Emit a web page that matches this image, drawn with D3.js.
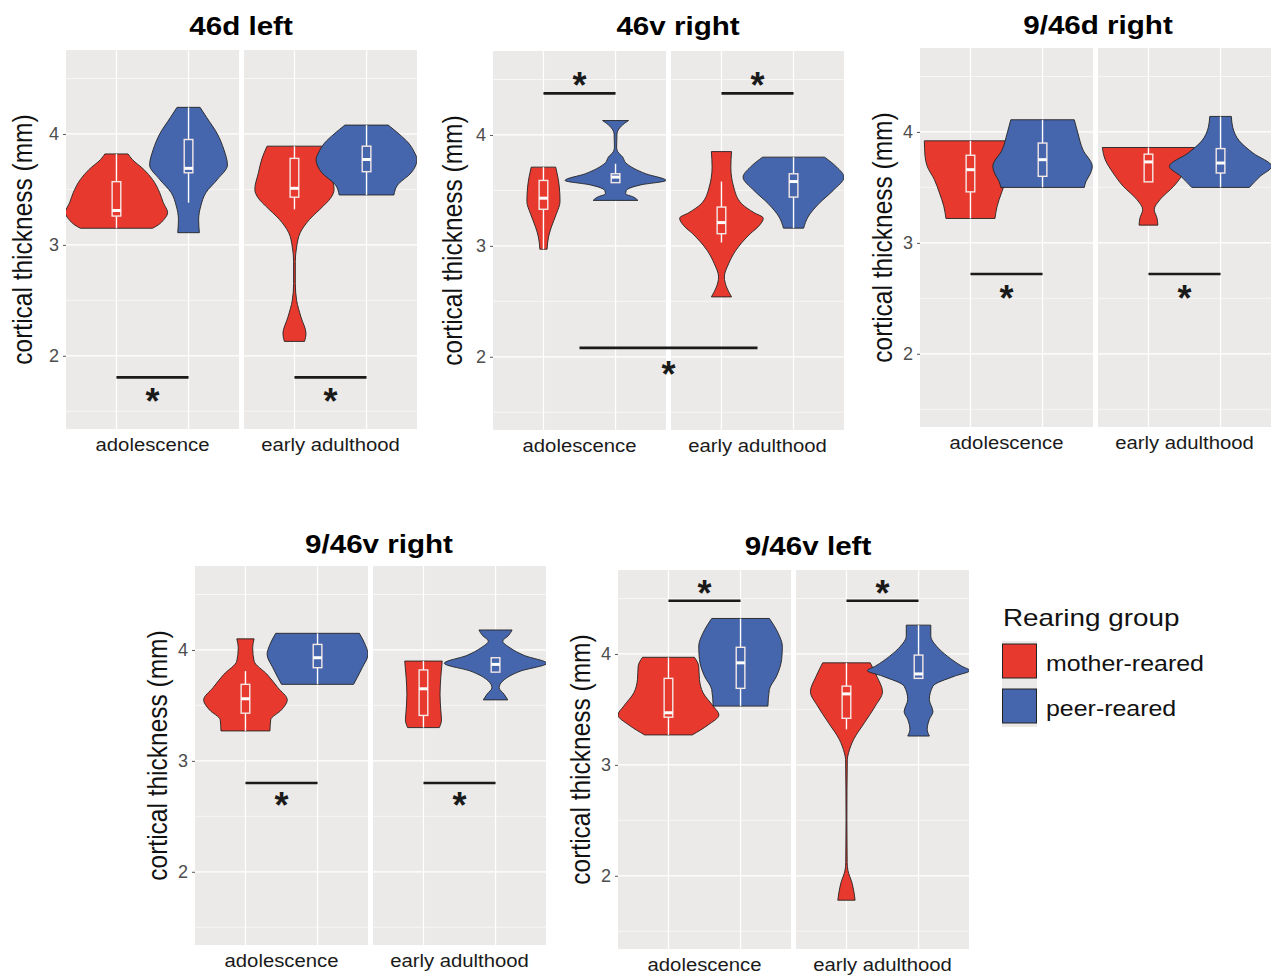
<!DOCTYPE html>
<html><head><meta charset="utf-8">
<script src="https://cdn.jsdelivr.net/npm/d3@7"></script>
<style>body{margin:0;background:#fff} svg{display:block}</style>
</head><body>
<script>
// ---------------- DATA ----------------
const panelTitles = ["46d left", "46v right", "9/46d right", "9/46v right", "9/46v left"];
const ages = ["adolescence", "early adulthood"];
const groups = ["mother-reared", "peer-reared"];
const yTicks = [2, 3, 4];
const yMinorTicks = [1.5, 2.5, 3.5, 4.5];
const yLabel = "cortical thickness (mm)";
const legendTitle = "Rearing group";

// violin outlines: [thickness (mm), half-width (x units)]
// order: adolescence/mother, adolescence/peer, early adulthood/mother, early adulthood/peer
const violins46dLeft = [
  [[3.82,0.16],[3.77,0.22],[3.68,0.38],[3.59,0.50],[3.47,0.60],[3.38,0.65],[3.29,0.71],[3.23,0.66],[3.18,0.58],[3.15,0.50]],
  [[4.24,0.16],[4.15,0.25],[4.00,0.40],[3.86,0.49],[3.72,0.54],[3.59,0.40],[3.47,0.24],[3.35,0.17],[3.23,0.14],[3.11,0.15]],
  [[3.89,0.38],[3.78,0.45],[3.65,0.50],[3.50,0.55],[3.42,0.50],[3.35,0.40],[3.23,0.21],[3.11,0.08],[2.98,0.03],[2.85,0.012],[2.65,0.012],[2.50,0.03],[2.35,0.09],[2.20,0.16],[2.13,0.14]],
  [[4.08,0.30],[4.00,0.45],[3.92,0.58],[3.84,0.66],[3.77,0.70],[3.65,0.62],[3.54,0.43],[3.45,0.38]]
];
const violins46vRight = [
  [[3.71,0.17],[3.62,0.20],[3.53,0.22],[3.40,0.23],[3.29,0.18],[3.17,0.11],[3.08,0.07],[2.97,0.05]],
  [[4.13,0.18],[4.08,0.08],[4.01,0.02],[3.89,0.015],[3.85,0.03],[3.80,0.10],[3.75,0.14],[3.70,0.25],[3.65,0.42],[3.59,0.70],[3.55,0.35],[3.50,0.15],[3.47,0.14],[3.44,0.25],[3.41,0.31]],
  [[3.85,0.14],[3.71,0.13],[3.53,0.17],[3.38,0.28],[3.30,0.45],[3.25,0.58],[3.18,0.52],[3.11,0.40],[2.96,0.20],[2.84,0.10],[2.72,0.04],[2.63,0.07],[2.54,0.14]],
  [[3.80,0.43],[3.71,0.60],[3.62,0.70],[3.50,0.55],[3.38,0.35],[3.26,0.20],[3.16,0.14]]
];
const violins946dRight = [
  [[3.92,0.64],[3.78,0.63],[3.69,0.60],[3.57,0.50],[3.45,0.43],[3.33,0.37],[3.22,0.34]],
  [[4.11,0.44],[3.99,0.49],[3.84,0.56],[3.69,0.69],[3.62,0.66],[3.55,0.60],[3.50,0.58]],
  [[3.86,0.64],[3.75,0.60],[3.63,0.49],[3.51,0.35],[3.39,0.16],[3.30,0.08],[3.22,0.12],[3.16,0.13]],
  [[4.14,0.15],[4.04,0.17],[3.92,0.26],[3.81,0.45],[3.69,0.71],[3.60,0.55],[3.50,0.40]]
];
const violins946vRight = [
  [[4.10,0.12],[4.02,0.10],[3.90,0.12],[3.78,0.30],[3.66,0.45],[3.55,0.58],[3.46,0.50],[3.37,0.35],[3.27,0.34]],
  [[4.15,0.58],[4.05,0.66],[3.96,0.70],[3.84,0.62],[3.75,0.55],[3.69,0.50]],
  [[3.90,0.26],[3.75,0.24],[3.60,0.23],[3.46,0.24],[3.37,0.25],[3.30,0.22]],
  [[4.18,0.23],[4.13,0.18],[4.08,0.10],[4.02,0.20],[3.95,0.40],[3.88,0.71],[3.81,0.35],[3.72,0.10],[3.66,0.05],[3.60,0.12],[3.55,0.17]]
];
const violins946vLeft = [
  [[3.97,0.36],[3.89,0.42],[3.77,0.43],[3.65,0.48],[3.53,0.62],[3.45,0.70],[3.36,0.55],[3.27,0.33]],
  [[4.32,0.40],[4.19,0.52],[4.07,0.58],[3.95,0.57],[3.80,0.50],[3.68,0.40],[3.53,0.38]],
  [[3.92,0.33],[3.80,0.42],[3.66,0.50],[3.53,0.40],[3.38,0.25],[3.23,0.10],[3.11,0.03],[3.05,0.012],[2.50,0.006],[2.12,0.01],[2.05,0.02],[1.93,0.08],[1.78,0.12]],
  [[4.26,0.17],[4.16,0.17],[4.07,0.25],[3.98,0.40],[3.89,0.60],[3.85,0.71],[3.80,0.50],[3.71,0.20],[3.59,0.15],[3.48,0.20],[3.41,0.15],[3.32,0.12],[3.26,0.15]]
];

// boxplots: [lower whisker, q1, median, q3, upper whisker]
const boxes46dLeft   = [[3.15,3.26,3.31,3.57,3.82],[3.38,3.65,3.69,3.95,4.24],[3.32,3.43,3.51,3.78,3.89],[3.45,3.66,3.77,3.89,4.08]];
const boxes46vRight  = [[2.97,3.33,3.43,3.59,3.71],[3.57,3.57,3.62,3.65,3.74],[3.03,3.11,3.21,3.35,3.58],[3.16,3.44,3.58,3.65,3.80]];
const boxes946dRight = [[3.22,3.46,3.66,3.79,3.92],[3.50,3.60,3.75,3.90,4.11],[3.55,3.55,3.73,3.80,3.86],[3.50,3.63,3.72,3.85,4.14]];
const boxes946vRight = [[3.27,3.43,3.56,3.69,3.81],[3.69,3.84,3.93,4.05,4.15],[3.30,3.41,3.65,3.82,3.90],[3.80,3.80,3.87,3.93,3.93]];
const boxes946vLeft  = [[3.27,3.43,3.47,3.78,3.97],[3.53,3.69,3.92,4.06,4.32],[3.32,3.42,3.64,3.71,3.92],[3.78,3.78,3.82,3.99,4.26]];

// significance markers: [age from, position from, age to, position to, bar value, star value]
const sig46dLeft   = [[0,1,0,2,1.805,1.65],[1,1,1,2,1.805,1.65]];
const sig46vRight  = [[0,1,0,2,4.375,4.51],[1,1,1,2,4.375,4.51],[0,1.5,1,1.5,2.08,1.91]];
const sig946dRight = [[0,1,0,2,2.72,2.56],[1,1,1,2,2.72,2.56]];
const sig946vRight = [[0,1,0,2,2.80,2.66],[1,1,1,2,2.80,2.66]];
const sig946vLeft  = [[0,1,0,2,4.48,4.61],[1,1,1,2,4.48,4.61]];

const panelViolins = [violins46dLeft, violins46vRight, violins946dRight, violins946vRight, violins946vLeft];
const panelBoxes = [boxes46dLeft, boxes46vRight, boxes946dRight, boxes946vRight, boxes946vLeft];
const panelSigs = [sig46dLeft, sig46vRight, sig946dRight, sig946vRight, sig946vLeft];

// ---------------- LAYOUT / STYLE ----------------
const colors = ["#E8392E", "#4566AC"];
const panelBg = "#ECEAE8";
const layout = [
  {left: 66,  top: 50,  titleX: 241,  titleY: 35,  axisX: 22},
  {left: 493, top: 51,  titleX: 678,  titleY: 35,  axisX: 452},
  {left: 920, top: 48,  titleX: 1098, titleY: 34,  axisX: 882},
  {left: 195, top: 566, titleX: 379,  titleY: 553, axisX: 157},
  {left: 618, top: 570, titleX: 808,  titleY: 555, axisX: 580}
];
const FW = 173, GAP = 5, PH = 379;
const yDomain = [1.34, 4.757];
const STRETCH = 1.16;
const FONT = "'Liberation Sans', Arial, Helvetica, sans-serif";

const svg = d3.select("body").append("svg").attr("width", 1277).attr("height", 979)
  .style("font-family", FONT);
const defs = svg.append("defs");

function label(g, x, y, text, size, opts = {}) {
  return g.append("text")
    .attr("transform", `translate(${x},${y}) scale(${STRETCH},1)` + (opts.rotate ? ` rotate(${opts.rotate})` : ""))
    .attr("text-anchor", opts.anchor || "middle")
    .attr("dy", opts.dy || null)
    .style("font-size", size + "px")
    .attr("font-weight", opts.bold ? "bold" : "normal")
    .attr("fill", opts.fill || "#111")
    .text(text);
}

panelTitles.forEach((title, pi) => {
  const L = layout[pi];
  const g = svg.append("g");
  const y = d3.scaleLinear().domain(yDomain).range([L.top + PH, L.top]);
  const xf = d3.scaleLinear().domain([0.3, 2.7]).range([0, FW]);
  const unit = xf(1) - xf(0);
  const fLeft = a => L.left + a * (FW + GAP);
  const X = (a, pos) => fLeft(a) + xf(pos);

  ages.forEach((age, a) => {
    const fx = fLeft(a);
    const clipId = `clip-${pi}-${a}`;
    defs.append("clipPath").attr("id", clipId).append("rect")
      .attr("x", fx).attr("y", L.top).attr("width", FW).attr("height", PH);
    g.append("rect").attr("x", fx).attr("y", L.top).attr("width", FW).attr("height", PH).attr("fill", panelBg);
    // grid
    g.selectAll(null).data(yMinorTicks).join("line")
      .attr("x1", fx).attr("x2", fx + FW).attr("y1", d => y(d)).attr("y2", d => y(d))
      .attr("stroke", "#fff").attr("stroke-width", 0.6);
    g.selectAll(null).data(yTicks).join("line")
      .attr("x1", fx).attr("x2", fx + FW).attr("y1", d => y(d)).attr("y2", d => y(d))
      .attr("stroke", "#fff").attr("stroke-width", 1.2);
    g.selectAll(null).data([1, 2]).join("line")
      .attr("x1", d => X(a, d)).attr("x2", d => X(a, d)).attr("y1", L.top).attr("y2", L.top + PH)
      .attr("stroke", "#fff").attr("stroke-width", 1.2);

    const vg = g.append("g").attr("clip-path", `url(#${clipId})`);
    groups.forEach((grp, gi) => {
      const idx = a * 2 + gi;
      const prof = panelViolins[pi][idx];
      const cx = X(a, gi + 1);
      const area = d3.area()
        .y(d => y(d[0]))
        .x0(d => cx - d[1] * unit)
        .x1(d => cx + d[1] * unit)
        .curve(d3.curveMonotoneY);
      vg.append("path").datum(prof).attr("d", area)
        .attr("fill", colors[gi]).attr("stroke", "#222").attr("stroke-width", 0.9);
      const b = panelBoxes[pi][idx];
      const bw = 0.06 * unit;
      vg.append("line").attr("x1", cx).attr("x2", cx).attr("y1", y(b[0])).attr("y2", y(b[4]))
        .attr("stroke", "#fff").attr("stroke-width", 1.4);
      vg.append("rect").attr("x", cx - bw).attr("width", 2 * bw)
        .attr("y", y(b[3])).attr("height", Math.max(1, y(b[1]) - y(b[3])))
        .attr("fill", colors[gi]).attr("stroke", "#f4e8e6").attr("stroke-width", 1.4);
      vg.append("line").attr("x1", cx - bw).attr("x2", cx + bw).attr("y1", y(b[2])).attr("y2", y(b[2]))
        .attr("stroke", "#fff").attr("stroke-width", 3);
    });

    label(g, fx + FW / 2, L.top + PH + 22, age, 17.5, {fill: "#1a1a1a"});
  });

  // significance
  panelSigs[pi].forEach(s => {
    const x1 = X(s[0], s[1]), x2 = X(s[2], s[3]);
    g.append("line").attr("x1", x1).attr("x2", x2).attr("y1", y(s[4])).attr("y2", y(s[4]))
      .attr("stroke", "#1a1a1a").attr("stroke-width", 2.6);
    g.append("text").attr("x", (x1 + x2) / 2).attr("y", y(s[5]) + 0.55 * 36)
      .attr("text-anchor", "middle").style("font-size", "36px").attr("font-weight", "bold")
      .attr("fill", "#1a1a1a").text("*");
  });

  // y axis
  const ax = g.append("g").attr("transform", `translate(${L.left},0)`)
    .call(d3.axisLeft(y).tickValues(yTicks).tickSize(3).tickPadding(4).tickFormat(d3.format("d")));
  ax.select(".domain").remove();
  ax.selectAll(".tick line").attr("stroke", "#555");
  ax.selectAll(".tick text").style("font-size", "18px").attr("fill", "#4d4d4d").style("font-family", FONT);

  label(g, L.axisX, L.top + PH / 2, yLabel, 24.5, {rotate: -90, dy: "0.35em"});
  label(g, L.titleX, L.titleY, title, 25.5, {bold: true, fill: "#000"});
});

// legend
const lg = svg.append("g");
label(lg, 1003, 626, legendTitle, 24, {anchor: "start", fill: "#111"});
lg.append("rect").attr("x", 1002).attr("y", 641).attr("width", 35).attr("height", 86).attr("fill", panelBg);
groups.forEach((grp, i) => {
  const ky = 644 + i * 45;
  lg.append("rect").attr("x", 1002.5).attr("y", ky).attr("width", 34).attr("height", 34)
    .attr("fill", colors[i]).attr("stroke", "#222").attr("stroke-width", 1);
  label(lg, 1046, ky + 27, grp, 21.5, {anchor: "start", fill: "#111"});
});
</script>
</body></html>
